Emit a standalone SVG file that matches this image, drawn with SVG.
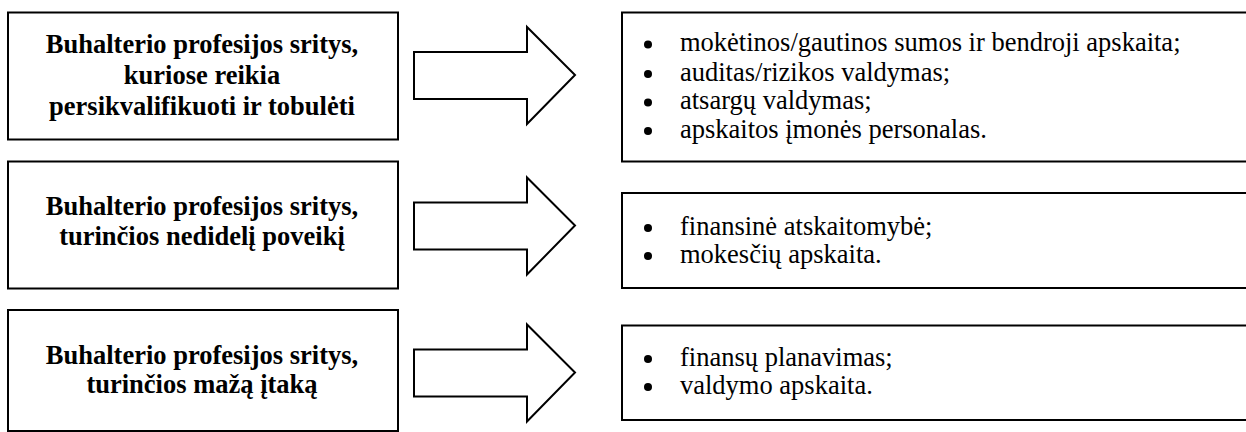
<svg xmlns="http://www.w3.org/2000/svg" width="1246" height="432" viewBox="0 0 1246 432">
  <style>
    .box { fill: #fff; stroke: #000; stroke-width: 2; }
    .arrow { fill: #fff; stroke: #000; stroke-width: 2; stroke-linejoin: miter; }
    text { font-family: "Liberation Serif", "Times New Roman", serif; fill: #000; }
    .head { font-weight: bold; font-size: 26.5px; text-anchor: middle; }
    .item { font-size: 26.5px; }
  </style>
  <defs>
    <!-- block arrow shape, origin at shaft left / top of head -->
    <path id="blockArrow" d="M0 25 H113 V0 L161 48 L113 97 V72 H0 Z"/>
  </defs>
  <rect width="1246" height="432" fill="#fff"/>

  <!-- row 1 -->
  <g id="area-retrain">
    <rect class="box" x="8" y="12.5" width="390" height="127"/>
    <text class="head" x="202" y="53">Buhalterio profesijos sritys,</text>
    <text class="head" x="202" y="84">kuriose reikia</text>
    <text class="head" x="202" y="115">persikvalifikuoti ir tobulėti</text>
  </g>
  <g id="list-retrain">
    <rect class="box" x="622" y="12.5" width="640" height="149"/>
    <circle cx="648" cy="44.5" r="4"/>
    <text class="item" x="680" y="51">mokėtinos/gautinos sumos ir bendroji apskaita;</text>
    <circle cx="648" cy="74" r="4"/>
    <text class="item" x="680" y="80.5">auditas/rizikos valdymas;</text>
    <circle cx="648" cy="102.5" r="4"/>
    <text class="item" x="680" y="109">atsargų valdymas;</text>
    <circle cx="648" cy="131" r="4"/>
    <text class="item" x="680" y="137.5">apskaitos įmonės personalas.</text>
  </g>

  <!-- row 2 -->
  <g id="area-minor">
    <rect class="box" x="8" y="161.5" width="390" height="127"/>
    <text class="head" x="202" y="215">Buhalterio profesijos sritys,</text>
    <text class="head" x="202" y="245">turinčios nedidelį poveikį</text>
  </g>
  <g id="list-minor">
    <rect class="box" x="622" y="193" width="640" height="95"/>
    <circle cx="648" cy="228" r="4"/>
    <text class="item" x="680" y="234.5">finansinė atskaitomybė;</text>
    <circle cx="648" cy="256" r="4"/>
    <text class="item" x="680" y="262.5">mokesčių apskaita.</text>
  </g>

  <!-- row 3 -->
  <g id="area-small">
    <rect class="box" x="8" y="310" width="390" height="121"/>
    <text class="head" x="202" y="364">Buhalterio profesijos sritys,</text>
    <text class="head" x="202" y="393">turinčios mažą įtaką</text>
  </g>
  <g id="list-small">
    <rect class="box" x="622" y="325.5" width="640" height="94.5"/>
    <circle cx="648" cy="359" r="4"/>
    <text class="item" x="680" y="365.5">finansų planavimas;</text>
    <circle cx="648" cy="387" r="4"/>
    <text class="item" x="680" y="393.5">valdymo apskaita.</text>
  </g>

  <!-- connectors: block arrows from each area to its list -->
  <g id="connectors">
    <use href="#blockArrow" class="arrow" x="414" y="27"/>
    <use href="#blockArrow" class="arrow" x="414" y="177.5"/>
    <use href="#blockArrow" class="arrow" x="414" y="324.5"/>
  </g>
</svg>
